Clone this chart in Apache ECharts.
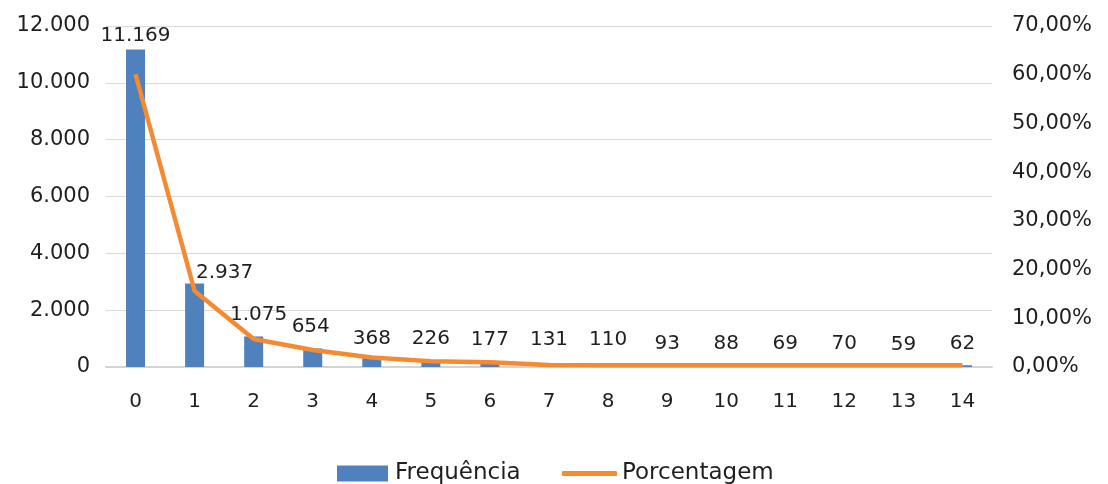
<!DOCTYPE html>
<html>
<head>
<meta charset="utf-8">
<script src="https://cdn.jsdelivr.net/npm/echarts@6/dist/echarts.min.js"></script>
<style>
  html, body { margin: 0; padding: 0; background: #ffffff; }
  #chart { width: 1108px; height: 484px; }
</style>
</head>
<body>
<div id="chart"></div>
<script>
// Categories on the x axis
var categories = ['0', '1', '2', '3', '4', '5', '6', '7', '8', '9', '10', '11', '12', '13', '14'];
// Frequency per category (left axis)
var frequencia = [11169, 2937, 1075, 654, 368, 226, 177, 131, 110, 93, 88, 69, 70, 59, 62];
// Share of the total, in percent (right axis)
var porcentagem = [60.1, 15.6, 5.75, 3.5, 1.95, 1.2, 0.95, 0.4, 0.35, 0.35, 0.35, 0.35, 0.35, 0.35, 0.35];
// Axis ranges
var leftMax = 12000, leftStep = 2000;
var rightMax = 70, rightStep = 10;

// Label nudges so the value labels clear the line
var labelOffsets = [[0, 0], [30, 3], [5, -8], [-2, -8], [0, -4], [0, -8], [0, -8], [0, -9], [0, -10],
                    [0, -7], [0, -7], [0, -7], [0, -7], [0, -7], [0, -7]];

var FONT = 'DejaVu Sans';
var TXT = '#1f1f1f';

function fmtThousands(v) {
  return String(v).replace(/\B(?=(\d{3})+(?!\d))/g, '.');
}

var barData = frequencia.map(function (v, i) {
  return { value: v, label: { offset: labelOffsets[i] } };
});

var chart = echarts.init(document.getElementById('chart'), null, { renderer: 'canvas' });
chart.setOption({
  animation: false,
  textStyle: { fontFamily: FONT },
  grid: { left: 106, right: 116, top: 26, bottom: 117, containLabel: false },
  legend: [
    {
      left: 337,
      top: 462,
      padding: 0,
      itemWidth: 51,
      itemHeight: 16,
      textStyle: { fontFamily: FONT, fontSize: 23, color: TXT, padding: [0, 0, 0, 2] },
      data: [{ name: 'Frequência', icon: 'rect' }]
    },
    {
      left: 562,
      top: 462,
      padding: 0,
      itemWidth: 55,
      itemHeight: 5,
      textStyle: { fontFamily: FONT, fontSize: 23, color: TXT, padding: [0, 0, 0, 0] },
      data: [{ name: 'Porcentagem', icon: 'roundRect' }]
    }
  ],
  xAxis: {
    type: 'category',
    data: categories,
    axisTick: { show: false },
    axisLine: { show: true, lineStyle: { color: '#d4d4d4', width: 2 } },
    axisLabel: { fontFamily: FONT, fontSize: 20, color: TXT, margin: 25 }
  },
  yAxis: [
    {
      type: 'value',
      min: 0, max: leftMax, interval: leftStep,
      axisLine: { show: false },
      axisTick: { show: false },
      splitLine: { lineStyle: { color: '#d9d9d9', width: 1 } },
      axisLabel: {
        fontFamily: FONT, fontSize: 21, color: TXT, margin: 16,
        formatter: function (v) { return fmtThousands(v); }
      }
    },
    {
      type: 'value',
      min: 0, max: rightMax, interval: rightStep,
      position: 'right',
      axisLine: { show: false },
      axisTick: { show: false },
      splitLine: { show: false },
      axisLabel: {
        fontFamily: FONT, fontSize: 21, color: TXT, margin: 20,
        formatter: function (v) { return v.toFixed(2).replace('.', ',') + '%'; }
      }
    }
  ],
  series: [
    {
      name: 'Frequência',
      type: 'bar',
      yAxisIndex: 0,
      data: barData,
      barWidth: 19,
      itemStyle: { color: '#4f81bd' },
      label: {
        show: true,
        position: 'top',
        distance: 4,
        fontFamily: FONT,
        fontSize: 20,
        color: TXT,
        formatter: function (p) { return fmtThousands(p.value); }
      },
      z: 2
    },
    {
      name: 'Porcentagem',
      type: 'line',
      yAxisIndex: 1,
      data: porcentagem,
      symbol: 'none',
      lineStyle: { color: '#f68a33', width: 4.5 },
      itemStyle: { color: '#f68a33' },
      z: 3
    }
  ]
});
</script>
</body>
</html>
